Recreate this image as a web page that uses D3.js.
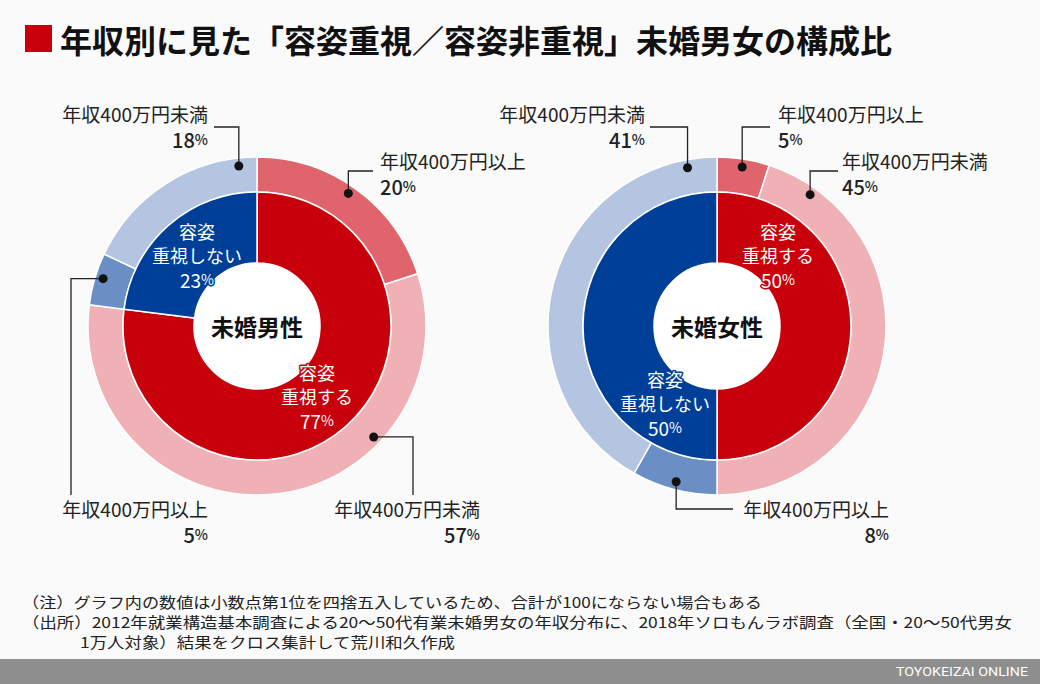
<!DOCTYPE html>
<html>
<head>
<meta charset="utf-8">
<script src="https://cdn.jsdelivr.net/npm/d3@7"></script>
<style>
  body { margin: 0; background: #fafafa; }
  svg { display: block; font-family: "Noto Sans CJK JP", "Noto Sans", sans-serif; }
</style>
</head>
<body>
<div id="canvas"></div>
<script>
// data
const groups = ["未婚男性", "未婚女性"];
const innerNames = [["容姿", "重視する"], ["容姿", "重視しない"]];
const incomeNames = ["年収400万円以上", "年収400万円未満"];
const maleInner = [77, 23];
const femaleInner = [50, 50];
const maleOuter = [[20, 57], [5, 18]];    // [以上, 未満] within 重視する / 重視しない
const femaleOuter = [[5, 45], [8, 41]];

const innerColors = ["#c8000b", "#003f98"];
const outerColors = [["#e0646c", "#efb1b5"], ["#6a8fc4", "#b3c5e0"]];

const width = 1040, height = 684;
const svg = d3.select("#canvas").append("svg").attr("width", width).attr("height", height);
svg.append("rect").attr("width", width).attr("height", height).attr("fill", "#fafafa");

// title
svg.append("rect").attr("x", 25).attr("y", 25).attr("width", 27).attr("height", 27).attr("fill", "#c8000b");
svg.append("text").attr("x", 60).attr("y", 39).attr("dominant-baseline", "central")
  .attr("font-size", 32).attr("font-weight", 700).attr("fill", "#111")
  .text("年収別に見た「容姿重視／容姿非重視」未婚男女の構成比");

const rHole = 63, rIn = 134, rOut = 169, rDot = 161;
const arcIn = d3.arc().innerRadius(rHole).outerRadius(rIn);
const arcOut = d3.arc().innerRadius(rIn).outerRadius(rOut);

// label layout per chart: [group][sub] -> t along segment, leader, text
const layouts = [
  { cx: 257, cy: 326,
    inner: [{ x: 317, y: 372 }, { x: 197, y: 231 }],
    outer: [
      [{ t: 0.48, path: "vh", p: [171, 373], x: 380, y: 160, anchor: "start" },
       { t: 0.30, path: "hv", p: [413, 495], x: 480, y: 508, anchor: "end" }],
      [{ t: 0.55, path: "hv", p: [71, 495], x: 208, y: 508, anchor: "end" },
       { t: 0.90, path: "vh", p: [127, 214], x: 208, y: 113, anchor: "end" }]
    ] },
  { cx: 717, cy: 326,
    inner: [{ x: 778, y: 231 }, { x: 665, y: 379 }],
    outer: [
      [{ t: 0.5, path: "vh", p: [127, 770], x: 778, y: 113, anchor: "start" },
       { t: 0.107, path: "vh", p: [171, 838], x: 842, y: 160, anchor: "start" }],
      [{ t: 0.5, path: "vh", p: [509, 733], x: 889, y: 508, anchor: "end" },
       { t: 0.93, path: "vh", p: [127, 650], x: 645, y: 113, anchor: "end" }]
    ] }
];

const charts = [
  { name: groups[0], inner: maleInner, outer: maleOuter },
  { name: groups[1], inner: femaleInner, outer: femaleOuter }
];

function pct(sel, v, size, small) {
  sel.append("tspan").attr("font-size", size).text(v);
  sel.append("tspan").attr("font-size", small).text("%");
}

charts.forEach((c, ci) => {
  const L = layouts[ci];
  const g = svg.append("g").attr("transform", `translate(${L.cx},${L.cy})`);
  const pie = d3.pie().sort(null)(c.inner);

  // outer slices laid inside each parent slice
  const outerArcs = [];
  pie.forEach((p, i) => {
    const sub = c.outer[i];
    const scale = d3.scaleLinear().domain([0, d3.sum(sub)]).range([p.startAngle, p.endAngle]);
    let acc = 0;
    sub.forEach((v, j) => {
      outerArcs.push({ i, j, value: v, startAngle: scale(acc), endAngle: scale(acc + v) });
      acc += v;
    });
  });

  g.selectAll(".out").data(outerArcs).enter().append("path")
    .attr("d", arcOut).attr("fill", d => outerColors[d.i][d.j])
    .attr("stroke", "#fff").attr("stroke-width", 1.5);
  g.selectAll(".in").data(pie).enter().append("path")
    .attr("d", arcIn).attr("fill", (d, i) => innerColors[i])
    .attr("stroke", "#fff").attr("stroke-width", 1.5);
  g.append("circle").attr("r", rHole).attr("fill", "#fff");
  g.append("text").attr("text-anchor", "middle").attr("dominant-baseline", "central")
    .attr("font-size", 23).attr("font-weight", 700).attr("fill", "#111").text(c.name);

  // inner labels
  pie.forEach((p, i) => {
    const pos = L.inner[i];
    const t = svg.append("g").attr("fill", "#fff").attr("text-anchor", "middle")
      .attr("stroke", innerColors[i]).attr("stroke-width", 3).attr("paint-order", "stroke")
      .attr("stroke-linejoin", "round");
    t.append("text").attr("x", pos.x).attr("y", pos.y).attr("dominant-baseline", "central")
      .attr("font-size", 18).text(innerNames[i][0]);
    t.append("text").attr("x", pos.x).attr("y", pos.y + 24).attr("dominant-baseline", "central")
      .attr("font-size", 18).text(innerNames[i][1]);
    t.append("text").attr("x", pos.x).attr("y", pos.y + 48).attr("dominant-baseline", "central")
      .call(pct, p.data, 19, 14);
  });

  // outer labels with leaders
  outerArcs.forEach(d => {
    const lay = L.outer[d.i][d.j];
    const a = d.startAngle + (d.endAngle - d.startAngle) * lay.t;
    const dx = L.cx + rDot * Math.sin(a), dy = L.cy - rDot * Math.cos(a);
    const path = lay.path === "vh"
      ? `M${dx},${dy}V${lay.p[0]}H${lay.p[1]}`
      : `M${dx},${dy}H${lay.p[0]}V${lay.p[1]}`;
    svg.append("path").attr("d", path).attr("fill", "none").attr("stroke", "#222").attr("stroke-width", 1.3);
    svg.append("circle").attr("cx", dx).attr("cy", dy).attr("r", 4.5).attr("fill", "#111");
    svg.append("text").attr("x", lay.x).attr("y", lay.y).attr("text-anchor", lay.anchor)
      .attr("dominant-baseline", "central").attr("font-size", 19).attr("fill", "#222")
      .text(incomeNames[d.j]);
    svg.append("text").attr("x", lay.x).attr("y", lay.y + 26).attr("text-anchor", lay.anchor)
      .attr("dominant-baseline", "central").attr("fill", "#222").attr("font-weight", 500)
      .call(pct, d.value, 20, 14);
  });
});

// notes
const notes = [
  { x: 22, y: 601, w: 740, s: "（注）グラフ内の数値は小数点第1位を四捨五入しているため、合計が100にならない場合もある" },
  { x: 22, y: 621, w: 990, s: "（出所）2012年就業構造基本調査による20〜50代有業未婚男女の年収分布に、2018年ソロもんラボ調査（全国・20〜50代男女" },
  { x: 80, y: 641, w: 375, s: "1万人対象）結果をクロス集計して荒川和久作成" }
];
notes.forEach(n => {
  svg.append("text").attr("x", n.x).attr("y", n.y).attr("dominant-baseline", "central")
    .attr("font-size", 15).attr("fill", "#222")
    .attr("textLength", n.w).attr("lengthAdjust", "spacingAndGlyphs").text(n.s);
});

// footer
svg.append("rect").attr("x", 0).attr("y", 659).attr("width", width).attr("height", 25).attr("fill", "#8e8e8e");
svg.append("text").attr("x", 1028).attr("y", 672).attr("text-anchor", "end").attr("dominant-baseline", "central")
  .attr("font-size", 12).attr("fill", "#fff").attr("font-family", "Roboto, sans-serif")
  .attr("textLength", 132).attr("lengthAdjust", "spacingAndGlyphs")
  .text("TOYOKEIZAI ONLINE");
</script>
</body>
</html>
